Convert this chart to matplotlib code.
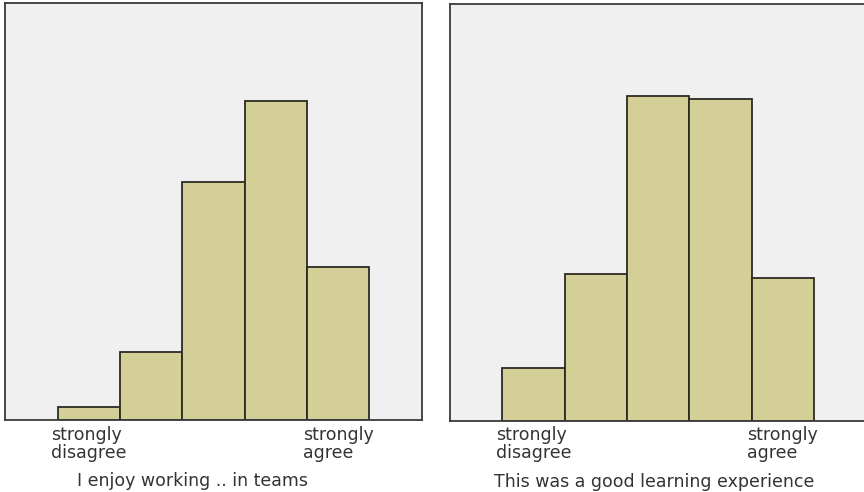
import matplotlib
matplotlib.use("Agg")
import matplotlib.pyplot as plt

# Likert response levels (1 = strongly disagree ... 5 = strongly agree)
levels = [1, 2, 3, 4, 5]
tick_positions = [1, 5]
tick_labels = ["strongly\ndisagree", "strongly\nagree"]

# Share of responses per level (percent of axis height scale)
teams_values = [3.0, 16.4, 57.0, 76.6, 36.8]
learning_values = [12.6, 35.1, 78.0, 77.2, 34.3]

teams_title = "I enjoy working .. in teams"
learning_title = "This was a good learning experience"

BAR_COLOR = "#d3cf96"
EDGE_COLOR = "#2b2b22"
PANEL_BG = "#f0f0f0"
TEXT_COLOR = "#333333"
FONT_SIZE = 12.5

fig = plt.figure(figsize=(8.64, 4.92), dpi=100)
fig.patch.set_facecolor("white")

W, H = 864.0, 492.0
ax_w = 416.7 / W
ax_h = 416.7 / H

panels = [
    (5.0, 420.0, teams_values, teams_title, 0.45),
    (449.7, 420.7, learning_values, learning_title, 0.49),
]

for left_px, base_px, values, title, label_x in panels:
    ax = fig.add_axes([left_px / W, (H - base_px) / H, ax_w, ax_h])
    ax.set_facecolor(PANEL_BG)
    ax.bar(levels, values, width=1.0, color=BAR_COLOR,
           edgecolor=EDGE_COLOR, linewidth=1.3)
    ax.set_xlim(-0.346, 6.343)
    ax.set_ylim(0, 100)
    ax.set_yticks([])
    ax.set_xticks(tick_positions)
    ax.set_xticklabels(tick_labels, fontsize=FONT_SIZE, color=TEXT_COLOR,
                       ha="center", multialignment="left", linespacing=1.0)
    ax.tick_params(axis="x", length=0, pad=4)
    for spine in ax.spines.values():
        spine.set_color("#3a3a3a")
        spine.set_linewidth(1.3)
    ax.set_xlabel(title, fontsize=FONT_SIZE, color=TEXT_COLOR)
    ax.xaxis.set_label_coords(label_x, -0.125)

fig.savefig("out.png", dpi=100)
